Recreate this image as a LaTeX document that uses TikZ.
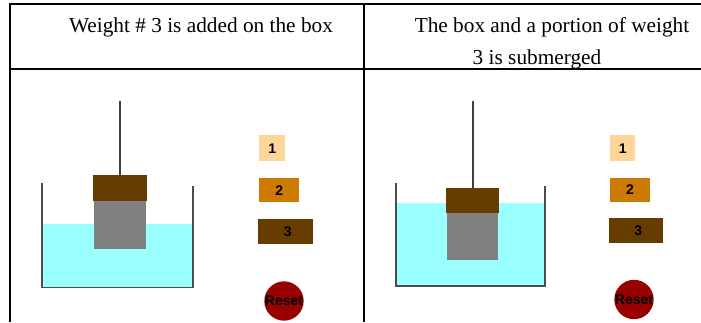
\documentclass[tikz,border=0pt]{standalone}
\usepackage{fontspec}
\setmainfont{Liberation Serif}
\newfontfamily\labelfont{Liberation Sans}
\definecolor{waterblue}{HTML}{99FFFF}
\definecolor{boxgray}{HTML}{808080}
\definecolor{lightweight}{HTML}{FFD699}
\definecolor{midweight}{HTML}{CC7A00}
\definecolor{heavyweight}{HTML}{663C00}
\definecolor{resetred}{HTML}{990000}
\tikzset{
	caption/.style={anchor=base,inner sep=0pt,font=\fontsize{21.3}{24}\selectfont},
	grid/.style={line width=2pt,black},
	vessel/.style={line width=1.4pt,black!70},
	rod/.style={line width=1.8pt,black!75},
	block/.style={anchor=north west,inner sep=0pt,font=\labelfont\bfseries\fontsize{14}{14}\selectfont},
	reset/.style={circle,fill=resetred,inner sep=0pt,minimum size=37.5pt,font=\labelfont\bfseries\fontsize{14}{14}\selectfont},
}
\begin{document}
\begin{tikzpicture}[x=1pt,y=-1pt]
	\useasboundingbox (0,0) rectangle (701,322);
	% table rules
	\draw[grid] (9,4) -- (701,4);
	\draw[grid] (10,68.5) -- (701,68.5);
	\draw[grid] (10,4) -- (10,322);
	\draw[grid] (364,4) -- (364,322);
	\node (capA) at (201,32) [caption] {Weight \# 3 is added on the box};
	\node (capB) at (552,32) [caption] {The box and a portion of weight};
	\node (capC) at (537,64) [caption] {3 is submerged};
	% left tank
	\fill[waterblue] (42,224) rectangle (193,287);
	\draw[vessel] (42,183) -- (42,287.5) -- (193,287.5) -- (193,186);
	\node (boxA) at (93.5,201) [block,fill=boxgray,minimum width=52.5pt,minimum height=48pt] {};
	\node (topA) at (92.5,175) [block,fill=heavyweight,minimum width=54pt,minimum height=26pt] {};
	\coordinate (hookA) at (119.7,101);
	\draw[rod] (hookA) -- (hookA |- topA.north);
	\node (oneA) at (259,135) [block,fill=lightweight,minimum width=26pt,minimum height=26pt] {1};
	\node (twoA) at (259,178) [block,fill=midweight,minimum width=40pt,minimum height=24pt] {2};
	\node (threeA) at (258,219) [block,fill=heavyweight,minimum width=55pt,minimum height=25pt] {\hspace*{4pt}3};
	\node (resetA) at (284,301) [reset] {Reset};
	% right tank
	\fill[waterblue] (396,203) rectangle (545,286);
	\draw[vessel] (396,183) -- (396,286) -- (545,286) -- (545,185.5);
	\node (boxB) at (447,213) [block,fill=boxgray,minimum width=51pt,minimum height=47pt] {};
	\node (topB) at (446,188) [block,fill=heavyweight,minimum width=53pt,minimum height=25pt] {};
	\coordinate (hookB) at (472.7,101);
	\draw[rod] (hookB) -- (hookB |- topB.north);
	\node (oneB) at (610,135) [block,fill=lightweight,minimum width=25pt,minimum height=26pt] {1};
	\node (twoB) at (610,178) [block,fill=midweight,minimum width=39.5pt,minimum height=23.5pt] {2};
	\node (threeB) at (609,218) [block,fill=heavyweight,minimum width=54pt,minimum height=25pt] {\hspace*{4pt}3};
	\node (resetB) at (634,299.5) [reset] {Reset};
\end{tikzpicture}
\end{document}
